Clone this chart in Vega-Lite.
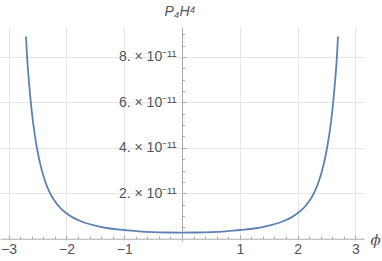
{
  "$schema": "https://vega.github.io/schema/vega-lite/v6.json",
  "width": 364,
  "height": 214,
  "autosize": {"type": "none"},
  "padding": {"left": 0, "top": 27, "right": 18, "bottom": 20},
  "background": "white",
  "title": {"text": "P₄H⁴", "font": "Liberation Sans", "fontStyle": "italic", "fontWeight": "normal", "fontSize": 14, "color": "#555555", "anchor": "middle", "offset": 8, "dx": -2},
  "config": {"view": {"stroke": null}},
  "data": {"values": [
    {"phi": -2.70, "P": 8.9e-11},
    {"phi": -2.68, "P": 7.95e-11},
    {"phi": -2.65, "P": 6.95e-11},
    {"phi": -2.60, "P": 5.6e-11},
    {"phi": -2.55, "P": 4.6e-11},
    {"phi": -2.50, "P": 3.85e-11},
    {"phi": -2.45, "P": 3.25e-11},
    {"phi": -2.40, "P": 2.78e-11},
    {"phi": -2.35, "P": 2.4e-11},
    {"phi": -2.30, "P": 2.1e-11},
    {"phi": -2.25, "P": 1.85e-11},
    {"phi": -2.20, "P": 1.65e-11},
    {"phi": -2.10, "P": 1.34e-11},
    {"phi": -2.00, "P": 1.12e-11},
    {"phi": -1.90, "P": 9.5e-12},
    {"phi": -1.75, "P": 7.7e-12},
    {"phi": -1.50, "P": 5.8e-12},
    {"phi": -1.25, "P": 4.5e-12},
    {"phi": -1.00, "P": 3.85e-12},
    {"phi": -0.75, "P": 3.25e-12},
    {"phi": -0.50, "P": 2.9e-12},
    {"phi": -0.25, "P": 2.75e-12},
    {"phi": 0.00, "P": 2.7e-12},
    {"phi": 0.25, "P": 2.75e-12},
    {"phi": 0.50, "P": 2.9e-12},
    {"phi": 0.75, "P": 3.25e-12},
    {"phi": 1.00, "P": 3.85e-12},
    {"phi": 1.25, "P": 4.5e-12},
    {"phi": 1.50, "P": 5.8e-12},
    {"phi": 1.75, "P": 7.7e-12},
    {"phi": 1.90, "P": 9.5e-12},
    {"phi": 2.00, "P": 1.12e-11},
    {"phi": 2.10, "P": 1.34e-11},
    {"phi": 2.20, "P": 1.65e-11},
    {"phi": 2.25, "P": 1.85e-11},
    {"phi": 2.30, "P": 2.1e-11},
    {"phi": 2.35, "P": 2.4e-11},
    {"phi": 2.40, "P": 2.78e-11},
    {"phi": 2.45, "P": 3.25e-11},
    {"phi": 2.50, "P": 3.85e-11},
    {"phi": 2.55, "P": 4.6e-11},
    {"phi": 2.60, "P": 5.6e-11},
    {"phi": 2.65, "P": 6.95e-11},
    {"phi": 2.68, "P": 7.95e-11},
    {"phi": 2.70, "P": 8.9e-11}
  ]},
  "mark": {"type": "line", "color": "#5E81B5", "strokeWidth": 1.8, "interpolate": "monotone", "clip": true},
  "encoding": {
    "x": {
      "field": "phi", "type": "quantitative",
      "scale": {"domain": [-3.15, 3.15], "nice": false, "zero": false},
      "axis": {
        "orient": "bottom", "offset": -2.3,
        "values": [-3, -2.8, -2.6, -2.4, -2.2, -2, -1.8, -1.6, -1.4, -1.2, -1, -0.8, -0.6, -0.4, -0.2, 0, 0.2, 0.4, 0.6, 0.8, 1, 1.2, 1.4, 1.6, 1.8, 2, 2.2, 2.4, 2.6, 2.8, 3],
        "labelExpr": "abs(datum.value - round(datum.value)) < 1e-6 && round(datum.value) != 0 ? replace(format(round(datum.value), 'd'), '-', '−') : ''",
        "labelFont": "Liberation Sans", "labelFontSize": 14, "labelColor": "#555555",
        "labelPadding": 8, "labelFlush": false, "labelOverlap": false,
        "domainColor": "#aaaaaa", "domainWidth": 1,
        "tickColor": "#aaaaaa",
        "tickSize": {"condition": {"test": "abs(datum.value - round(datum.value)) < 1e-6", "value": -4}, "value": -2.5},
        "grid": true,
        "gridColor": "#e6e6e6",
        "gridOpacity": {"condition": {"test": "abs(datum.value - round(datum.value)) < 1e-6 && round(datum.value) != 0", "value": 1}, "value": 0},
        "title": "ϕ", "titleFont": "DejaVu Serif", "titleFontStyle": "italic", "titleFontWeight": "normal", "titleFontSize": 15, "titleColor": "#555555",
        "titleAngle": 0, "titleX": 370, "titleY": 1, "titleAlign": "left", "titleBaseline": "middle"
      }
    },
    "y": {
      "field": "P", "type": "quantitative",
      "scale": {"domain": [-1e-12, 9.32e-11], "nice": false, "zero": false},
      "axis": {
        "orient": "left", "offset": -182,
        "values": [5e-12, 1e-11, 1.5e-11, 2e-11, 2.5e-11, 3e-11, 3.5e-11, 4e-11, 4.5e-11, 5e-11, 5.5e-11, 6e-11, 6.5e-11, 7e-11, 7.5e-11, 8e-11, 8.5e-11, 9e-11],
        "labelExpr": "abs(datum.value * 1e11 / 2 - round(datum.value * 1e11 / 2)) < 1e-6 ? format(round(datum.value * 1e11), 'd') + '. × 10⁻¹¹' : ''",
        "labelFont": "Liberation Sans", "labelFontSize": 14, "labelColor": "#555555",
        "labelPadding": 10, "labelFlush": false, "labelOverlap": false,
        "domainColor": "#aaaaaa", "domainWidth": 1,
        "tickColor": "#aaaaaa",
        "tickSize": {"condition": {"test": "abs(datum.value * 1e11 / 2 - round(datum.value * 1e11 / 2)) < 1e-6", "value": -4}, "value": -2.5},
        "grid": true,
        "gridColor": "#e6e6e6",
        "gridOpacity": {"condition": {"test": "abs(datum.value * 1e11 / 2 - round(datum.value * 1e11 / 2)) < 1e-6", "value": 1}, "value": 0},
        "title": null
      }
    }
  }
}
